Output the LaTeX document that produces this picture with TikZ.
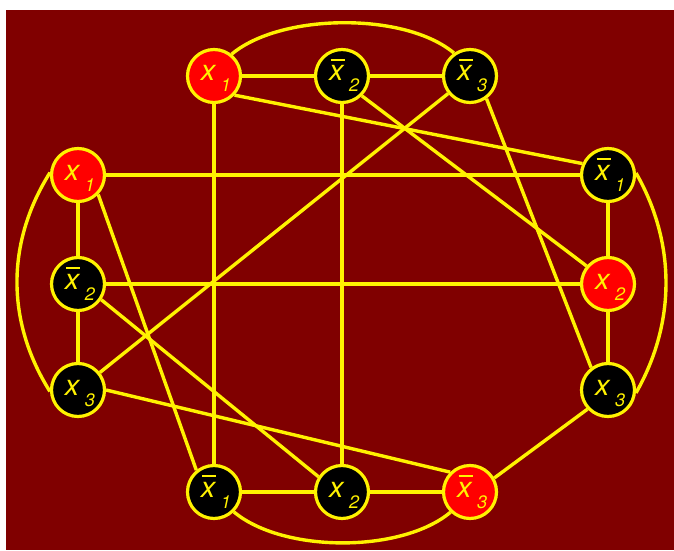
\documentclass[tikz,border=0pt]{standalone}
\usepackage{fontspec}
\setmainfont{TeX Gyre Heros}
\definecolor{bgred}{HTML}{800000}
\newcommand\xv[1]{\hspace*{4pt}\fontsize{29}{29}\selectfont\itshape x\hspace{5.5pt}\raisebox{-11pt}{\fontsize{18}{18}\selectfont #1}}
\newcommand\xn[1]{\hspace*{4pt}\fontsize{29}{29}\selectfont\itshape\rlap{\hspace{1.5pt}\rule[20pt]{14pt}{2.2pt}}x\hspace{5.5pt}\raisebox{-11pt}{\fontsize{18}{18}\selectfont #1}}
\tikzset{
  vtx/.style={circle, draw=yellow, line width=3.2pt, minimum size=53pt, inner sep=0pt,
    text=yellow, text height=18pt, text depth=8pt},
  redv/.style={vtx, fill=red},
  blackv/.style={vtx, fill=black},
  ed/.style={draw=yellow, line width=3.4pt}
}
\begin{document}
\begin{tikzpicture}[x=1pt,y=1pt]
\useasboundingbox (0,0) rectangle (674,550);
\fill[bgred] (6,0) rectangle (674,540);
% nodes
\node[redv]   (t1) at (214,474) {\xv{1}};
\node[blackv] (t2) at (342,474) {\xn{2}};
\node[blackv] (t3) at (470,474) {\xn{3}};
\node[redv]   (l1) at (78,375) {\xv{1}};
\node[blackv] (l2) at (78,266) {\xn{2}};
\node[blackv] (l3) at (78,160) {\xv{3}};
\node[blackv] (r1) at (608,375) {\xn{1}};
\node[redv]   (r2) at (608,266) {\xv{2}};
\node[blackv] (r3) at (608,160) {\xv{3}};
\node[blackv] (b1) at (214,58) {\xn{1}};
\node[blackv] (b2) at (342,58) {\xv{2}};
\node[redv]   (b3) at (470,58) {\xn{3}};
% straight edges
\draw[ed] (t1) -- (t2);
\draw[ed] (t2) -- (t3);
\draw[ed] (t1) -- (b1);
\draw[ed] (t2) -- (b2);
\draw[ed] (l1) -- (l2);
\draw[ed] (l2) -- (l3);
\draw[ed] (r1) -- (r2);
\draw[ed] (r2) -- (r3);
\draw[ed] (b1) -- (b2);
\draw[ed] (b2) -- (b3);
\draw[ed] (l1) -- (r1);
\draw[ed] (l2) -- (r2);
\draw[ed] (t1.-43) -- (r1.156);
\draw[ed] (t2.-45) -- (r2.140);
\draw[ed] (t3) -- (l3);
\draw[ed] (t3.-54) -- (r3.127);
\draw[ed] (l1.-44) -- (b1.129);
\draw[ed] (l2.-34) -- (b2.147);
\draw[ed] (l3.0) -- (b3.135);
\draw[ed] (r3.-137) -- (b3.30);
% arcs
\draw[ed] (t1.51) .. controls +(40:64) and +(140:64) .. (t3.125);
\draw[ed] (b1.-45) .. controls +(-40:64) and +(-140:64) .. (b3.-134);
\draw[ed] (l1.175) .. controls +(-44,-70) and +(-44,70) .. (l3.183);
\draw[ed] (r1.4) .. controls +(40,-70) and +(40,70) .. (r3.-6);
\end{tikzpicture}
\end{document}
